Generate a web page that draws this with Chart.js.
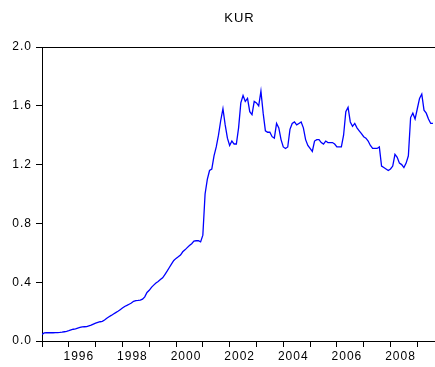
<!DOCTYPE html>
<html>
<head>
<meta charset="utf-8">
<title>KUR</title>
<script src="https://cdn.jsdelivr.net/npm/chart.js@4/dist/chart.umd.min.js"></script>
<style>
  html, body { margin: 0; padding: 0; background: #ffffff; }
  #wrap { width: 435px; height: 367px; }
</style>
</head>
<body>
<div id="wrap"><canvas id="c" width="435" height="367"></canvas></div>
<script>
// Monthly series, first observation January 1995
const seriesName = 'KUR';
const startYear = 1995;
const kurValues = [
  0.045, 0.055, 0.056, 0.056, 0.056, 0.056, 0.057, 0.057, 0.058, 0.060, 0.063, 0.066,
  0.070, 0.075, 0.080, 0.083, 0.088, 0.092, 0.096, 0.097, 0.098, 0.103, 0.108, 0.115,
  0.122, 0.127, 0.131, 0.134, 0.143, 0.155, 0.165, 0.174, 0.184, 0.193, 0.202, 0.213,
  0.224, 0.235, 0.242, 0.250, 0.258, 0.270, 0.275, 0.276, 0.278, 0.285, 0.300, 0.330,
  0.345, 0.365, 0.380, 0.395, 0.405, 0.418, 0.430, 0.452, 0.475, 0.500, 0.525, 0.548,
  0.562, 0.573, 0.585, 0.607, 0.620, 0.635, 0.650, 0.662, 0.680, 0.682, 0.682, 0.674,
  0.720, 1.000, 1.100, 1.160, 1.170, 1.260, 1.320, 1.400, 1.500, 1.580, 1.470, 1.380,
  1.330, 1.360, 1.340, 1.340, 1.450, 1.620, 1.670, 1.630, 1.650, 1.560, 1.540, 1.630,
  1.620, 1.600, 1.700, 1.550, 1.430, 1.420, 1.420, 1.390, 1.380, 1.480, 1.450, 1.370,
  1.320, 1.310, 1.320, 1.440, 1.480, 1.490, 1.470, 1.480, 1.490, 1.450, 1.370, 1.330,
  1.310, 1.290, 1.360, 1.370, 1.370, 1.350, 1.340, 1.360, 1.350, 1.350, 1.350, 1.340,
  1.320, 1.320, 1.320, 1.400, 1.560, 1.590, 1.490, 1.460, 1.480, 1.450, 1.430, 1.410,
  1.390, 1.380, 1.360, 1.330, 1.310, 1.310, 1.310, 1.320, 1.190, 1.180, 1.170, 1.160,
  1.170, 1.190, 1.270, 1.250, 1.210, 1.200, 1.180, 1.210, 1.260, 1.520, 1.550, 1.510,
  1.580, 1.650, 1.680, 1.570, 1.550, 1.510, 1.480, 1.480
];
const yearLabels = ['1996', '1998', '2000', '2002', '2004', '2006', '2008'];
const yTickValues = [0.0, 0.4, 0.8, 1.2, 1.6, 2.0];

const points = kurValues.map((v, i) => ({ x: startYear + i / 12, y: v }));

const FONT = '"Liberation Sans", Arial, "DejaVu Sans", sans-serif';

// Spaced-out canvas text and a centred heading over the plot area
const headingPlugin = {
  id: 'heading',
  beforeUpdate(chart) { chart.ctx.letterSpacing = '1px'; },
  beforeDraw(chart) { chart.ctx.letterSpacing = '1px'; },
  afterDraw(chart) {
    const { ctx, chartArea } = chart;
    ctx.save();
    ctx.letterSpacing = '1px';
    ctx.fillStyle = '#000000';
    ctx.font = '13px ' + FONT;
    ctx.textAlign = 'center';
    ctx.textBaseline = 'middle';
    ctx.fillText(seriesName, (chartArea.left + chartArea.right) / 2 + 1, 18);
    ctx.restore();
  }
};

new Chart(document.getElementById('c'), {
  type: 'line',
  data: {
    datasets: [{
      label: seriesName,
      data: points,
      borderColor: '#0000ff',
      borderWidth: 1.3,
      pointRadius: 0,
      tension: 0,
      fill: false
    }]
  },
  options: {
    responsive: false,
    animation: false,
    devicePixelRatio: 1,
    layout: { padding: { top: 47, right: 0, left: 0, bottom: 0 } },
    plugins: {
      legend: { display: false },
      title: { display: false },
      tooltip: { enabled: false }
    },
    scales: {
      x: {
        type: 'linear',
        min: 1995,
        max: 2009.66,
        afterFit(scale) { scale.height = 26; },
        border: { display: true, color: '#000000', width: 1 },
        grid: {
          drawOnChartArea: false,
          drawTicks: true,
          tickLength: 6,
          tickColor: '#000000',
          color: 'rgba(0,0,0,0)'
        },
        ticks: {
          stepSize: 1,
          includeBounds: false,
          autoSkip: false,
          maxRotation: 0,
          minRotation: 0,
          padding: 2,
          labelOffset: 10,
          color: '#000000',
          font: { size: 12, family: FONT },
          callback(value) {
            const s = String(Math.round(value));
            return yearLabels.includes(s) ? s : '';
          }
        }
      },
      y: {
        type: 'linear',
        min: 0,
        max: 2,
        afterFit(scale) { scale.width = 42; },
        afterBuildTicks(scale) {
          scale.ticks = yTickValues.map(v => ({ value: v }));
        },
        border: { display: true, color: '#000000', width: 1 },
        grid: {
          drawOnChartArea: true,
          drawTicks: true,
          tickLength: 6,
          tickColor: '#000000',
          color(ctx) {
            return ctx.tick && Math.abs(ctx.tick.value - 2) < 1e-6 ? '#000000' : 'rgba(0,0,0,0)';
          }
        },
        ticks: {
          padding: 4,
          color: '#000000',
          font: { size: 12, family: FONT },
          callback(value) { return Number(value).toFixed(1); }
        }
      }
    }
  },
  plugins: [headingPlugin]
});
</script>
</body>
</html>
